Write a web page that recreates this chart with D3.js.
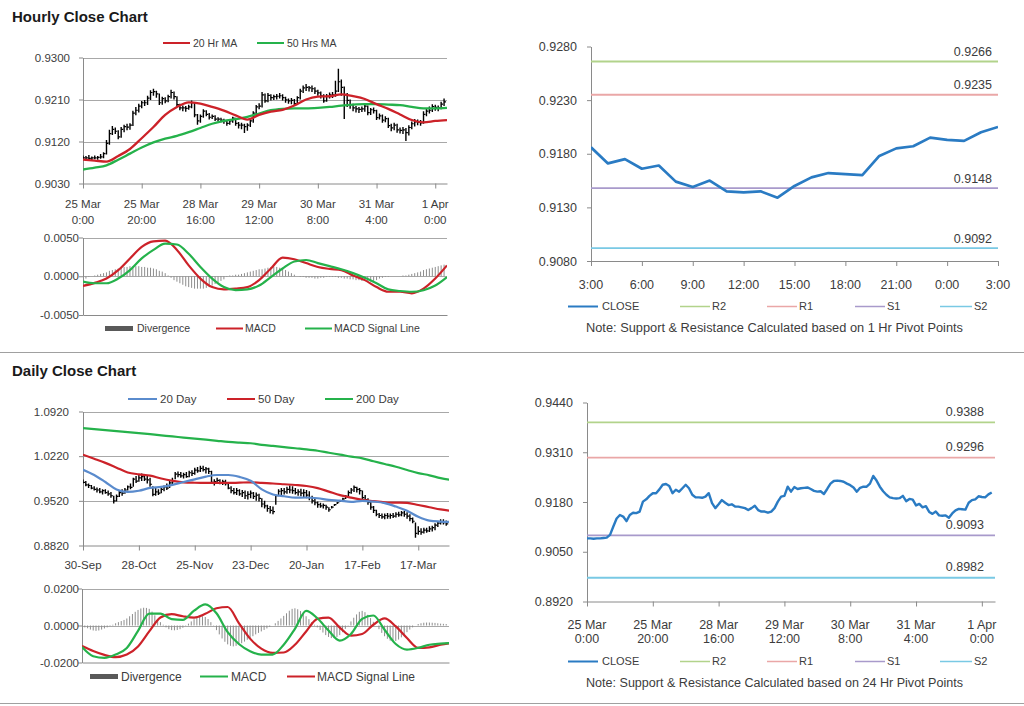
<!DOCTYPE html>
<html><head><meta charset="utf-8">
<script src="https://cdn.jsdelivr.net/npm/d3@7"></script>
<style>body{margin:0;background:#fff}svg{display:block}</style>
</head><body>
<svg id="c" width="1024" height="706"></svg>
<script>
// ---------------- DATA ----------------
const hourTickIdx = [0,20,40,60,80,100,120];
const hourTickTop = ["25 Mar","25 Mar","28 Mar","29 Mar","30 Mar","31 Mar","1 Apr"];
const hourTickBottom = ["0:00","20:00","16:00","12:00","8:00","4:00","0:00"];

const hourlyClose = [0.9085,0.9085,0.9084,0.9085,0.9085,0.9086,0.9087,0.9094,0.9116,0.9137,
0.9146,0.9142,0.9130,0.9146,0.9152,0.9151,0.9155,0.9181,0.9187,0.9196,
0.9203,0.9203,0.9213,0.9225,0.9227,0.9222,0.9203,0.9212,0.9207,0.9216,
0.9225,0.9216,0.9199,0.9192,0.9192,0.9191,0.9194,0.9203,0.9177,0.9164,
0.9174,0.9185,0.9178,0.9172,0.9174,0.9168,0.9168,0.9166,0.9164,0.9159,
0.9164,0.9170,0.9159,0.9155,0.9155,0.9152,0.9155,0.9164,0.9181,0.9194,
0.9196,0.9220,0.9207,0.9219,0.9214,0.9216,0.9217,0.9218,0.9214,0.9209,
0.9207,0.9208,0.9201,0.9214,0.9228,0.9235,0.9236,0.9235,0.9233,0.9228,
0.9224,0.9218,0.9207,0.9217,0.9220,0.9220,0.9228,0.9248,0.9236,0.9220,
0.9208,0.9199,0.9192,0.9190,0.9189,0.9190,0.9196,0.9182,0.9188,0.9186,
0.9171,0.9175,0.9166,0.9169,0.9154,0.9149,0.9155,0.9145,0.9144,0.9145,
0.9139,0.9150,0.9158,0.9162,0.9161,0.9160,0.9178,0.9185,0.9187,0.9195,
0.9193,0.9192,0.9200,0.9205];
const hourlyHigh = [0.9090,0.9089,0.9091,0.9088,0.9090,0.9089,0.9093,0.9097,0.9123,0.9145,
0.9153,0.9150,0.9144,0.9151,0.9156,0.9158,0.9159,0.9186,0.9194,0.9201,
0.9207,0.9209,0.9218,0.9230,0.9233,0.9229,0.9223,0.9216,0.9215,0.9220,
0.9231,0.9227,0.9217,0.9201,0.9197,0.9196,0.9199,0.9208,0.9204,0.9179,
0.9178,0.9189,0.9187,0.9181,0.9178,0.9176,0.9172,0.9171,0.9169,0.9166,
0.9167,0.9173,0.9171,0.9162,0.9160,0.9158,0.9159,0.9167,0.9185,0.9198,
0.9202,0.9226,0.9223,0.9224,0.9221,0.9220,0.9222,0.9224,0.9221,0.9216,
0.9212,0.9213,0.9211,0.9217,0.9233,0.9240,0.9243,0.9239,0.9240,0.9236,
0.9231,0.9227,0.9221,0.9222,0.9225,0.9226,0.9250,0.9276,0.9253,0.9238,
0.9224,0.9210,0.9201,0.9196,0.9194,0.9195,0.9200,0.9197,0.9192,0.9193,
0.9188,0.9180,0.9178,0.9174,0.9171,0.9158,0.9160,0.9158,0.9150,0.9151,
0.9149,0.9155,0.9163,0.9168,0.9167,0.9166,0.9185,0.9192,0.9195,0.9200,
0.9199,0.9197,0.9205,0.9212];
const hourlyLow = [0.9080,0.9079,0.9081,0.9078,0.9082,0.9081,0.9083,0.9084,0.9092,0.9113,
0.9134,0.9136,0.9125,0.9128,0.9140,0.9144,0.9145,0.9153,0.9176,0.9182,
0.9191,0.9196,0.9198,0.9209,0.9218,0.9214,0.9198,0.9199,0.9202,0.9204,
0.9212,0.9210,0.9194,0.9187,0.9185,0.9184,0.9188,0.9191,0.9172,0.9156,
0.9160,0.9171,0.9174,0.9167,0.9168,0.9164,0.9163,0.9161,0.9158,0.9154,
0.9156,0.9160,0.9154,0.9148,0.9146,0.9138,0.9143,0.9151,0.9160,0.9178,
0.9189,0.9193,0.9203,0.9204,0.9208,0.9209,0.9210,0.9212,0.9208,0.9203,
0.9201,0.9200,0.9197,0.9199,0.9210,0.9224,0.9228,0.9227,0.9226,0.9222,
0.9218,0.9212,0.9203,0.9205,0.9212,0.9213,0.9216,0.9226,0.9218,0.9168,
0.9194,0.9190,0.9185,0.9182,0.9181,0.9183,0.9184,0.9176,0.9177,0.9180,
0.9166,0.9167,0.9160,0.9161,0.9149,0.9142,0.9144,0.9139,0.9137,0.9136,
0.9121,0.9133,0.9146,0.9152,0.9155,0.9154,0.9158,0.9174,0.9180,0.9183,
0.9186,0.9185,0.9189,0.9196];
// moving averages sampled every 4 hourly bars (0..124)
const ma20Hr = [0.9081,0.9079,0.9077,0.9089,0.9104,0.9127,0.9151,0.9177,0.9194,0.9204,0.9201,0.9194,0.9186,0.9176,0.9167,0.9177,
0.9184,0.9188,0.9197,0.9210,0.9216,0.9217,0.9221,0.9217,0.9211,0.9200,0.9190,0.9178,0.9166,0.9161,0.9164,0.9166];
const ma50Hr = [0.9060,0.9064,0.9069,0.9081,0.9094,0.9107,0.9118,0.9126,0.9132,0.9140,0.9149,0.9158,0.9164,0.9168,0.9173,0.9180,
0.9187,0.9190,0.9191,0.9191,0.9192,0.9194,0.9197,0.9199,0.9200,0.9200,0.9199,0.9198,0.9194,0.9191,0.9191,0.9192];
// hourly MACD sampled every 4 bars
const hMacd = [-0.00125,-0.00086,-0.0003,0.00078,0.0023,0.0038,0.0045,0.0046,0.0034,0.0014,-0.0003,-0.0014,-0.0017,-0.0016,-0.0014,-0.0005,
0.0010,0.0024,0.0022,0.0017,0.0012,0.00095,0.0008,0.0001,-0.0005,-0.0014,-0.0020,-0.0020,-0.0022,-0.0016,-0.0003,0.0014];
const hSignal = [-0.0007,-0.0009,-0.0009,-0.0003,0.0008,0.0023,0.0034,0.0042,0.0041,0.0029,0.0012,-0.0003,-0.0014,-0.0018,-0.0017,-0.0012,
-0.0001,0.0010,0.0019,0.0021,0.0017,0.0013,0.0009,0.0004,-0.0002,-0.0009,-0.0017,-0.0019,-0.0020,-0.0018,-0.0012,-0.0001];
const hDiv = [-0.0004,-0.0003,-0.0001,0.0000,0.0001,0.0002,0.0003,0.0004,0.0005,0.0007,0.0008,0.0009,0.0010,0.0011,0.0012,0.0012,
0.0013,0.0013,0.0013,0.0013,0.0012,0.0012,0.0011,0.0011,0.0010,0.0009,0.0007,0.0006,0.0004,0.0001,-0.0002,-0.0005,
-0.0007,-0.0009,-0.0011,-0.0013,-0.0014,-0.0015,-0.0016,-0.0016,-0.0016,-0.0016,-0.0015,-0.0014,-0.0012,-0.0010,-0.0008,-0.0006,
-0.0004,-0.0001,0.0001,0.0001,0.0002,0.0002,0.0003,0.0004,0.0005,0.0006,0.0007,0.0008,0.0009,0.0009,0.0010,0.0011,
0.0012,0.0012,0.0012,0.0011,0.0010,0.0008,0.0006,0.0004,0.0002,0.0000,-0.0001,-0.0001,-0.0002,-0.0002,-0.0002,-0.0003,
-0.0003,-0.0002,-0.0002,-0.0001,-0.0001,-0.0001,-0.0001,-0.0002,-0.0002,-0.0003,-0.0003,-0.0004,-0.0004,-0.0005,-0.0005,-0.0006,
-0.0006,-0.0007,-0.0007,-0.0006,-0.0005,-0.0003,-0.0002,-0.0001,-0.0001,0.0000,0.0000,0.0000,0.0000,0.0001,0.0001,0.0002,
0.0003,0.0004,0.0005,0.0006,0.0008,0.0009,0.0010,0.0011,0.0012,0.0013,0.0014,0.0015];

const pivotHourLabels = ["3:00","6:00","9:00","12:00","15:00","18:00","21:00","0:00","3:00"];
const pivotNames = ["R2","R1","S1","S2"];
const pivot1hLevels = [0.9266,0.9235,0.9148,0.9092];
const pivot24Levels = [0.9388,0.9296,0.9093,0.8982];

const dayTickIdx = [0,20,40,60,80,100,120];
const dayTickLabels = ["30-Sep","28-Oct","25-Nov","23-Dec","20-Jan","17-Feb","17-Mar"];
const dailyHigh = [0.9855,0.9830,0.9790,0.9770,0.9750,0.9730,0.9720,0.9700,0.9700,0.9680,
0.9660,0.9600,0.9620,0.9680,0.9700,0.9720,0.9760,0.9790,0.9880,0.9910,
0.9940,0.9950,0.9930,0.9920,0.9880,0.9750,0.9720,0.9700,0.9730,0.9760,
0.9790,0.9830,0.9880,0.9970,0.9980,0.9970,0.9960,0.9970,0.9990,1.0000,
1.0040,1.0050,1.0070,1.0070,1.0050,1.0040,0.9990,0.9860,0.9880,0.9860,
0.9850,0.9850,0.9810,0.9750,0.9720,0.9720,0.9700,0.9690,0.9680,0.9670,
0.9680,0.9660,0.9650,0.9630,0.9560,0.9520,0.9460,0.9440,0.9430,0.9620,
0.9700,0.9720,0.9720,0.9740,0.9760,0.9750,0.9720,0.9700,0.9710,0.9700,
0.9690,0.9670,0.9600,0.9560,0.9510,0.9490,0.9480,0.9460,0.9420,0.9440,
0.9470,0.9500,0.9530,0.9570,0.9610,0.9680,0.9720,0.9760,0.9740,0.9720,
0.9680,0.9610,0.9560,0.9500,0.9440,0.9380,0.9330,0.9320,0.9320,0.9330,
0.9320,0.9330,0.9340,0.9350,0.9360,0.9360,0.9340,0.9310,0.9260,0.9180,
0.9120,0.9090,0.9100,0.9100,0.9120,0.9130,0.9170,0.9200,0.9230,0.9230,
0.9210];
const dailyLow = [0.9790,0.9750,0.9720,0.9700,0.9680,0.9650,0.9640,0.9620,0.9630,0.9600,
0.9570,0.9480,0.9510,0.9580,0.9600,0.9630,0.9680,0.9700,0.9740,0.9800,
0.9820,0.9830,0.9830,0.9790,0.9740,0.9590,0.9600,0.9610,0.9640,0.9670,
0.9690,0.9720,0.9770,0.9860,0.9890,0.9880,0.9870,0.9880,0.9890,0.9910,
0.9930,0.9960,0.9970,0.9980,0.9950,0.9940,0.9790,0.9760,0.9790,0.9780,
0.9770,0.9760,0.9700,0.9640,0.9620,0.9610,0.9600,0.9580,0.9550,0.9540,
0.9560,0.9550,0.9520,0.9510,0.9420,0.9400,0.9350,0.9320,0.9310,0.9460,
0.9590,0.9610,0.9620,0.9630,0.9640,0.9630,0.9620,0.9600,0.9590,0.9570,
0.9560,0.9530,0.9480,0.9450,0.9410,0.9410,0.9400,0.9380,0.9350,0.9400,
0.9440,0.9470,0.9500,0.9520,0.9550,0.9590,0.9630,0.9660,0.9650,0.9620,
0.9540,0.9500,0.9460,0.9380,0.9330,0.9280,0.9250,0.9240,0.9230,0.9240,
0.9240,0.9250,0.9260,0.9270,0.9280,0.9270,0.9240,0.9200,0.9170,0.8940,
0.8990,0.8990,0.9010,0.9020,0.9030,0.9040,0.9060,0.9110,0.9150,0.9150,
0.9130];
const dailyClose = [0.9810,0.9770,0.9760,0.9720,0.9700,0.9690,0.9660,0.9680,0.9650,0.9630,
0.9600,0.9520,0.9590,0.9650,0.9640,0.9690,0.9740,0.9730,0.9860,0.9830,
0.9880,0.9900,0.9860,0.9850,0.9780,0.9620,0.9660,0.9640,0.9700,0.9740,
0.9720,0.9800,0.9820,0.9940,0.9930,0.9910,0.9930,0.9900,0.9960,0.9950,
1.0000,0.9990,1.0030,1.0010,1.0020,0.9980,0.9810,0.9820,0.9840,0.9800,
0.9820,0.9790,0.9720,0.9680,0.9650,0.9680,0.9630,0.9650,0.9600,0.9620,
0.9640,0.9590,0.9610,0.9560,0.9470,0.9440,0.9400,0.9370,0.9350,0.9600,
0.9670,0.9680,0.9660,0.9700,0.9690,0.9680,0.9650,0.9660,0.9640,0.9650,
0.9610,0.9570,0.9520,0.9490,0.9460,0.9440,0.9450,0.9420,0.9380,0.9420,
0.9460,0.9490,0.9520,0.9550,0.9590,0.9650,0.9690,0.9730,0.9700,0.9680,
0.9570,0.9540,0.9500,0.9420,0.9370,0.9310,0.9290,0.9270,0.9290,0.9280,
0.9290,0.9280,0.9310,0.9300,0.9330,0.9310,0.9280,0.9240,0.9200,0.9010,
0.9040,0.9030,0.9060,0.9050,0.9080,0.9100,0.9140,0.9170,0.9190,0.9180,
0.9160];
// daily moving averages sampled every 4 days (0..132)
const ma20Day = [1.0008,0.9925,0.9815,0.9698,0.9660,0.9678,0.9722,0.9738,0.9770,0.9815,0.9857,0.9900,0.9925,0.9925,0.9895,0.9835,0.9700,
0.9620,0.9592,0.9570,0.9572,0.9560,0.9535,0.9522,0.9504,0.9520,0.9508,0.9485,0.9430,0.9365,0.9270,0.9210,0.9195,0.9188];
const ma50Day = [1.0243,1.0180,1.0115,1.0040,0.9965,0.9935,0.9915,0.9870,0.9835,0.9810,0.9803,0.9800,0.9800,0.9800,0.9805,0.9810,0.9800,
0.9792,0.9780,0.9768,0.9752,0.9720,0.9665,0.9610,0.9570,0.9537,0.9515,0.9497,0.9492,0.9487,0.9455,0.9420,0.9385,0.9360];
const ma200Day = [1.0659,1.0643,1.0628,1.0612,1.0597,1.0581,1.0564,1.0546,1.0529,1.0511,1.0494,1.0478,1.0461,1.0444,1.0432,1.0422,1.0398,
1.0380,1.0362,1.0344,1.0327,1.0305,1.0273,1.0244,1.0213,1.0186,1.0140,1.0097,1.0054,1.0004,0.9955,0.9920,0.9876,0.9845];
// daily MACD sampled every 4 days (0..132)
const dMacd = [-0.0116,-0.0166,-0.0175,-0.0157,-0.0121,-0.0029,0.0064,0.0064,0.0034,0.0030,0.0080,0.0114,0.0066,-0.0036,-0.0100,-0.0139,-0.0157,
-0.0157,-0.0104,-0.0018,0.0079,0.0039,-0.0027,-0.0082,-0.0046,0.0036,0.0054,-0.0023,-0.0100,-0.0130,-0.0121,-0.0104,-0.0098,-0.0094];
const dSignal = [-0.0111,-0.0138,-0.0159,-0.0171,-0.0157,-0.0113,-0.0032,0.0043,0.0061,0.0050,0.0043,0.0063,0.0093,0.0100,0.0013,-0.0071,-0.0125,
-0.0148,-0.0146,-0.0104,-0.0032,0.0036,0.0043,-0.0011,-0.0055,-0.0046,0.0004,0.0038,-0.0005,-0.0068,-0.0121,-0.0118,-0.0104,-0.0095];
const dDiv = [-0.0005,-0.0010,-0.0015,-0.0022,-0.0027,-0.0029,-0.0027,-0.0022,-0.0016,-0.0010,-0.0004,0.0004,0.0012,0.0018,0.0024,0.0030,
0.0038,0.0050,0.0062,0.0074,0.0084,0.0092,0.0096,0.0095,0.0090,0.0075,0.0055,0.0035,0.0018,0.0004,-0.0010,-0.0020,
-0.0025,-0.0026,-0.0024,-0.0020,-0.0012,-0.0002,0.0010,0.0022,0.0034,0.0042,0.0048,0.0050,0.0046,0.0035,0.0018,-0.0002,
-0.0025,-0.0048,-0.0070,-0.0088,-0.0102,-0.0110,-0.0113,-0.0110,-0.0104,-0.0096,-0.0087,-0.0077,-0.0067,-0.0058,-0.0048,-0.0040,
-0.0032,-0.0024,-0.0016,-0.0008,0.0000,0.0012,0.0025,0.0038,0.0052,0.0066,0.0080,0.0090,0.0093,0.0088,0.0078,0.0065,
0.0050,0.0034,0.0018,0.0004,-0.0010,-0.0024,-0.0038,-0.0052,-0.0062,-0.0068,-0.0068,-0.0062,-0.0052,-0.0036,-0.0018,0.0002,
0.0022,0.0042,0.0060,0.0074,0.0079,0.0072,0.0058,0.0040,0.0020,0.0000,-0.0020,-0.0040,-0.0058,-0.0072,-0.0082,-0.0086,
-0.0084,-0.0076,-0.0064,-0.0050,-0.0036,-0.0022,-0.0010,0.0000,0.0008,0.0012,0.0015,0.0016,0.0016,0.0015,0.0014,0.0012,
0.0010,0.0009,0.0008];

const hourlyYTicks = [0.9030,0.9120,0.9210,0.9300];
const hMacdTicks = [-0.005,0,0.005];
const pivot1hTicks = [0.9080,0.9130,0.9180,0.9230,0.9280];
const dailyYTicks = [0.8820,0.9520,1.0220,1.0920];
const dMacdTicks = [-0.02,0,0.02];
const pivot24Ticks = [0.8920,0.9050,0.9180,0.9310,0.9440];

// ---------------- DRAWING ----------------
const FONT = '"Liberation Sans", Arial, Helvetica, sans-serif';
const C = {axis:"#8a8a8a", grid:"#a8a8a8", text:"#3c3c3c", red:"#cc2229", green:"#25b24b",
  blue:"#5a8bcd", close:"#2a7bc3", r2:"#b2d38b", r1:"#eaa7a7", s1:"#a89acb", s2:"#79c9e4", div:"#8d8d8d"};
const pivotColors = [C.r2, C.r1, C.s1, C.s2];
const svg = d3.select("#c").style("font-family", FONT);
const fmt4 = d => d.toFixed(4);
let clipN = 0;

function panel(o) {
  const x = d3.scaleLinear().domain(o.xd).range([o.x0, o.x1]);
  const y = d3.scaleLinear().domain(o.yd).range([o.y0, o.y1]);
  const g = svg.append("g");
  if (o.grid) g.selectAll(null).data(o.grid).join("line")
    .attr("x1", o.x0).attr("x2", o.x1).attr("y1", d => Math.round(y(d)) + 0.5).attr("y2", d => Math.round(y(d)) + 0.5)
    .attr("stroke", C.grid).attr("stroke-width", 1);
  const ya = g.append("g").attr("transform", `translate(${o.x0},0)`)
    .call(d3.axisLeft(y).tickValues(o.yticks).tickSize(4).tickSizeOuter(0).tickPadding(o.x0 - o.labelRight - 4).tickFormat(fmt4));
  ya.select(".domain").attr("stroke", C.axis);
  ya.selectAll(".tick line").attr("stroke", C.axis);
  ya.selectAll("text").attr("fill", C.text).attr("font-size", o.fs).attr("font-family", FONT);
  const xa = g.append("g").attr("transform", `translate(0,${o.y0})`)
    .call(d3.axisBottom(x).tickValues(o.xticks || []).tickSize(o.xticks ? 5 : 0).tickSizeOuter(0).tickFormat(""));
  xa.select(".domain").attr("stroke", C.axis);
  xa.selectAll(".tick line").attr("stroke", C.axis);
  const id = "clip" + (clipN++);
  svg.append("clipPath").attr("id", id).append("rect")
    .attr("x", o.x0).attr("y", Math.min(o.y0, o.y1) - 20).attr("width", o.x1 - o.x0).attr("height", Math.abs(o.y0 - o.y1) + 20);
  const plot = svg.append("g").attr("clip-path", `url(#${id})`);
  return {x, y, g, plot};
}
function xLabels(p, idx, lines, y0, fs) {
  lines.forEach((arr, li) => {
    p.g.selectAll(null).data(idx).join("text")
      .attr("x", d => p.x(d)).attr("y", y0[li]).attr("text-anchor", "middle")
      .attr("font-size", fs).attr("fill", C.text).text((d, i) => arr[i]);
  });
}
function drawLine(p, vals, step, color, w, curve) {
  const ln = d3.line().x((d, i) => p.x(i * step)).y(d => p.y(d));
  if (curve) ln.curve(d3.curveMonotoneX);
  p.plot.append("path").attr("d", ln(vals)).attr("fill", "none").attr("stroke", color)
    .attr("stroke-width", w).attr("stroke-linejoin", "round");
}
function ohlc(p, hi, lo, cl, w) {
  p.plot.selectAll(null).data(d3.range(hi.length)).join("line")
    .attr("x1", i => p.x(i)).attr("x2", i => p.x(i)).attr("y1", i => p.y(hi[i])).attr("y2", i => p.y(lo[i]))
    .attr("stroke", "#000").attr("stroke-width", w);
  p.plot.selectAll(null).data(d3.range(cl.length)).join("line")
    .attr("x1", i => p.x(i)).attr("x2", i => p.x(i) + 2).attr("y1", i => p.y(cl[i])).attr("y2", i => p.y(cl[i]))
    .attr("stroke", "#000").attr("stroke-width", 1.2);
}
function divBars(p, vals) {
  p.plot.selectAll(null).data(vals).join("line")
    .attr("x1", (d, i) => p.x(i)).attr("x2", (d, i) => p.x(i)).attr("y1", p.y(0)).attr("y2", d => p.y(d))
    .attr("stroke", C.div).attr("stroke-width", 1);
}
function legLine(x1, x2, y, color, w, label, tx, fs) {
  svg.append("line").attr("x1", x1).attr("x2", x2).attr("y1", y).attr("y2", y).attr("stroke", color).attr("stroke-width", w);
  svg.append("text").attr("x", tx).attr("y", y + fs * 0.36).attr("font-size", fs).attr("fill", C.text).text(label);
}
function legBox(x1, x2, y, label, tx, fs) {
  svg.append("rect").attr("x", x1).attr("y", y - 2.5).attr("width", x2 - x1).attr("height", 5).attr("fill", "#595959");
  svg.append("text").attr("x", tx).attr("y", y + fs * 0.36).attr("font-size", fs).attr("fill", C.text).text(label);
}

// Titles and separators
svg.append("text").attr("x", 12).attr("y", 22).attr("font-size", 15).attr("font-weight", "bold").attr("fill", "#1a1a1a").text("Hourly Close Chart");
svg.append("text").attr("x", 12).attr("y", 376).attr("font-size", 15).attr("font-weight", "bold").attr("fill", "#1a1a1a").text("Daily Close Chart");
[352.5, 703.5].forEach(yy => svg.append("line").attr("x1", 0).attr("x2", 1024).attr("y1", yy).attr("y2", yy).attr("stroke", "#a0a0a0"));

// Panel 1: hourly OHLC
const p1 = panel({x0: 83, x1: 447, xd: [0, 124], y0: 183.5, y1: 57.5, yd: [0.9030, 0.9300],
  yticks: hourlyYTicks, grid: hourlyYTicks.slice(1), labelRight: 70, fs: 11.5, xticks: hourTickIdx});
xLabels(p1, hourTickIdx, [hourTickTop, hourTickBottom], [208, 224], 11.5);
ohlc(p1, hourlyHigh, hourlyLow, hourlyClose, 1.4);
drawLine(p1, ma50Hr, 4, C.green, 2.3, true);
drawLine(p1, ma20Hr, 4, C.red, 2.3, true);
legLine(163, 190, 43, C.red, 2, "20 Hr MA", 193, 10.5);
legLine(257, 284, 43, C.green, 2, "50 Hrs MA", 287, 10.5);

// Panel 2: hourly MACD
const p2 = panel({x0: 83, x1: 447, xd: [0, 124], y0: 315, y1: 237.5, yd: [-0.005, 0.005],
  yticks: hMacdTicks, grid: [0, 0.005], labelRight: 79, fs: 11.5});
divBars(p2, hDiv);
drawLine(p2, hMacd, 4, C.red, 2.2, true);
drawLine(p2, hSignal, 4, C.green, 2.2, true);
legBox(105, 133, 328.5, "Divergence", 137, 10.5);
legLine(216, 243, 328.5, C.red, 2, "MACD", 245, 10.5);
legLine(305, 332, 328.5, C.green, 2, "MACD  Signal Line", 334, 10.5);

// Panel 3: 1 Hr pivot
const pivot1hClose = hourlyClose.slice(-25);
const p3 = panel({x0: 591, x1: 998, xd: [0, 24], y0: 261, y1: 46.5, yd: [0.9080, 0.9280],
  yticks: pivot1hTicks, labelRight: 577, fs: 12.5, xticks: d3.range(0, 25, 3)});
xLabels(p3, d3.range(0, 25, 3), [pivotHourLabels], [289], 12.5);
pivot1hLevels.forEach((v, i) => {
  p3.plot.append("line").attr("x1", p3.x(0)).attr("x2", p3.x(24)).attr("y1", p3.y(v)).attr("y2", p3.y(v))
    .attr("stroke", pivotColors[i]).attr("stroke-width", 1.8);
  svg.append("text").attr("x", 992).attr("y", p3.y(v) - 5.5).attr("text-anchor", "end").attr("font-size", 12.5)
    .attr("fill", C.text).text(fmt4(v));
});
drawLine(p3, pivot1hClose, 1, C.close, 2.7, false);
const legX = [[568, 598, 602], [680, 710, 712], [767, 797, 799], [855, 885, 887], [940, 972, 974]];
function pivotLegend(y, noteY, note) {
  const cols = [C.close].concat(pivotColors), labs = ["CLOSE"].concat(pivotNames);
  labs.forEach((l, i) => legLine(legX[i][0], legX[i][1], y, cols[i], i === 0 ? 2 : 1.5, l, legX[i][2], 11));
  svg.append("text").attr("x", 586).attr("y", noteY).attr("font-size", 12).attr("fill", C.text)
    .attr("textLength", 377).attr("lengthAdjust", "spacingAndGlyphs").text(note);
}
pivotLegend(306.5, 332, "Note: Support & Resistance Calculated based on 1 Hr Pivot Points");

// Panel 4: daily OHLC
const p4 = panel({x0: 83, x1: 449, xd: [0, 131], y0: 545.5, y1: 411.5, yd: [0.8820, 1.0920],
  yticks: dailyYTicks, grid: dailyYTicks.slice(1), labelRight: 69, fs: 11.5, xticks: dayTickIdx});
xLabels(p4, dayTickIdx, [dayTickLabels], [569], 11.5);
ohlc(p4, dailyHigh, dailyLow, dailyClose, 1.4);
drawLine(p4, ma200Day, 4, C.green, 2.2, true);
drawLine(p4, ma50Day, 4, C.red, 2.2, true);
drawLine(p4, ma20Day, 4, C.blue, 2.2, true);
legLine(128, 157, 399, C.blue, 2, "20 Day", 160, 11.5);
legLine(227, 255, 399, C.red, 2, "50 Day", 258, 11.5);
legLine(325, 353, 399, C.green, 2, "200 Day", 356, 11.5);

// Panel 5: daily MACD
const p5 = panel({x0: 82, x1: 449, xd: [0, 131], y0: 662.5, y1: 588.5, yd: [-0.02, 0.02],
  yticks: dMacdTicks, grid: [0, 0.02], labelRight: 79, fs: 11.5});
divBars(p5, dDiv);
drawLine(p5, dSignal, 4, C.red, 2.2, true);
drawLine(p5, dMacd, 4, C.green, 2.2, true);
legBox(90, 118, 676.5, "Divergence", 121, 12);
legLine(200, 228, 676.5, C.green, 2, "MACD", 231, 12);
legLine(287, 315, 676.5, C.red, 2, "MACD  Signal Line", 317, 12);

// Panel 6: 24 Hr pivot
const p6 = panel({x0: 587, x1: 995, xd: [0, 124], y0: 601.5, y1: 402.5, yd: [0.8920, 0.9440],
  yticks: pivot24Ticks, labelRight: 573, fs: 12.5, xticks: hourTickIdx});
xLabels(p6, hourTickIdx, [hourTickTop, hourTickBottom], [629, 643], 12.5);
pivot24Levels.forEach((v, i) => {
  p6.plot.append("line").attr("x1", p6.x(0)).attr("x2", p6.x(124)).attr("y1", p6.y(v)).attr("y2", p6.y(v))
    .attr("stroke", pivotColors[i]).attr("stroke-width", 1.8);
  svg.append("text").attr("x", 984).attr("y", p6.y(v) - 6.5).attr("text-anchor", "end").attr("font-size", 12.5)
    .attr("fill", C.text).text(fmt4(v));
});
drawLine(p6, hourlyClose, 1, C.close, 2.4, false);
pivotLegend(661.5, 687, "Note: Support & Resistance Calculated based on 24 Hr Pivot Points");
</script>
</body></html>
